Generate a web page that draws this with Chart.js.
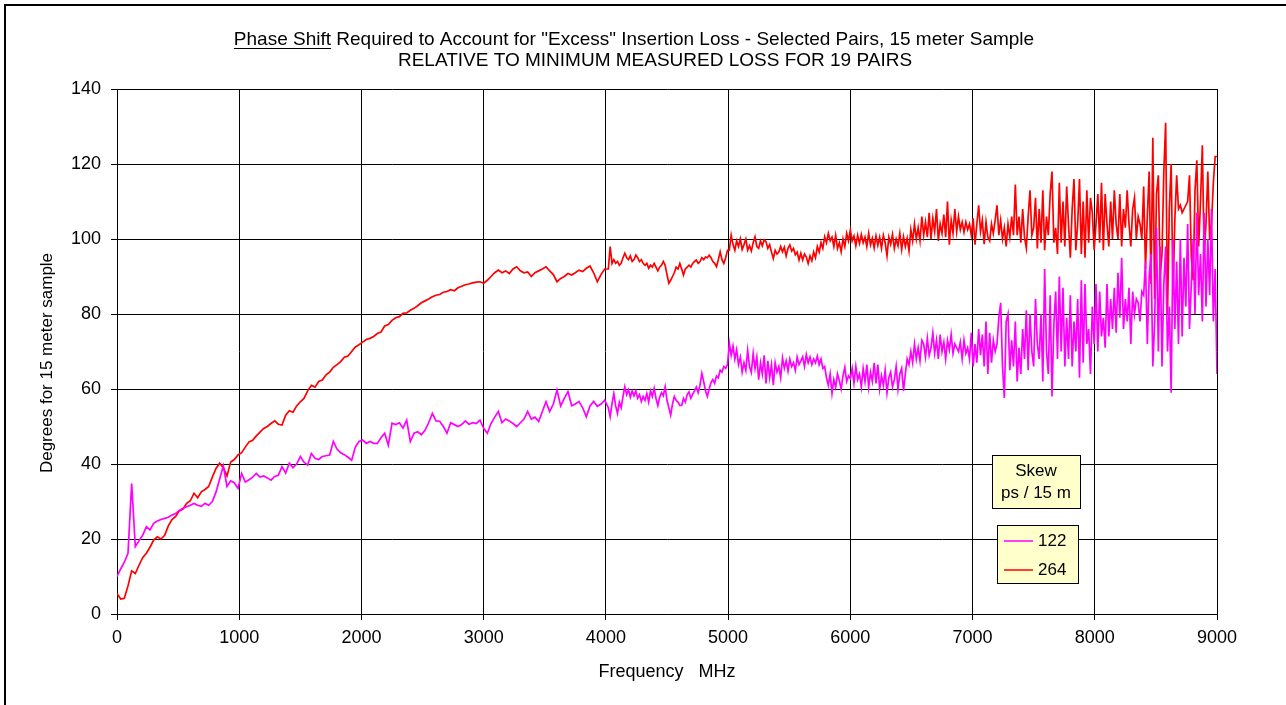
<!DOCTYPE html>
<html>
<head>
<meta charset="utf-8">
<script src="https://cdn.jsdelivr.net/npm/chart.js@4.4.0/dist/chart.umd.min.js"></script>
<style>
  html, body { margin: 0; padding: 0; background: #fff; overflow: hidden; }
  #frame { position: absolute; left: 4px; top: 4px; width: 1320px; height: 740px; border: 2px solid #000; }
  #wrap { position: absolute; left: 0; top: 0; width: 1286px; height: 705px; }
</style>
</head>
<body>
<div id="frame"></div>
<div id="wrap"><canvas id="chart" width="1286" height="705"></canvas></div>
<script>
// Readings: every 30 MHz from 0 to 3990 MHz, then every 15 MHz from 4020 to 9000 MHz
const LOW_STEP = 30;
const HIGH_START = 4020;
const HIGH_STEP = 15;
const X_TICKS = [0, 1000, 2000, 3000, 4000, 5000, 6000, 7000, 8000, 9000];
const Y_TICKS = [0, 20, 40, 60, 80, 100, 120, 140];

const TITLE_HEAD = "Phase Shift";
const TITLE_REST = " Required to Account for \"Excess\" Insertion Loss - Selected Pairs, 15 meter Sample";
const TITLE_LINE2 = "RELATIVE TO MINIMUM MEASURED LOSS FOR 19 PAIRS";
const X_TITLE = "Frequency   MHz";
const Y_TITLE = "Degrees for 15 meter sample";
const LEGEND_TITLE = ["Skew", "ps / 15 m"];
const SERIES_LABELS = ["122", "264"];

// pair with 122 ps skew (magenta), degrees, 0..3990 MHz
const pair122Low = [
  10, 12, 13.8, 16.2, 34.8, 18, 19.5, 21, 23.3, 22.4,          // 0
  24.2, 24.8, 25.2, 25.5, 25.8, 26.4, 26.8, 27.6, 28.2, 28.6,  // 300
  29, 29.5, 29, 28.7, 29.5, 29, 30, 32.5, 36, 39.5,            // 600
  34, 35.5, 35, 33.5, 37.5, 35.2, 35.8, 36.5, 37.5, 36.5,      // 900
  36.8, 36.3, 35.7, 36.7, 37, 39.3, 37.6, 40.2, 39, 40,        // 1200
  42, 40.5, 39.7, 42.8, 41.5, 41.2, 42, 42.2, 42.4, 46,        // 1500
  44, 43, 42.5, 41.8, 41, 44.5, 46, 46.4, 45.5, 46,            // 1800
  45.5, 45.5, 47, 48.2, 45, 50.9, 50.5, 51, 49.6, 51.7,        // 2100
  46, 48.2, 48.6, 47.8, 49, 51, 53.5, 51.5, 51.4, 50,          // 2400
  48.2, 51, 50.5, 50, 50.5, 51.5, 50.6, 51, 50.8, 51.7,        // 2700
  49.5, 48.2, 50.8, 52.5, 54, 51, 52, 51.5, 50.8, 50,          // 3000
  51, 52, 54, 52, 52.5, 51.3, 54, 56.6, 54, 56,                // 3300
  59.7, 55.5, 57.5, 59.3, 55.5, 56, 56.7, 55, 52.6, 55.5,      // 3600
  56.7, 55.4, 56, 57                                           // 3900
];

// pair with 122 ps skew (magenta), degrees, 4020..9000 MHz
const pair122High = [
  55, 52.6, 56, 58.8, 55.5, 53.5, 56.5, 55, 58, 60.6, 58.5, 59.8, 57.8, 59.5, 58.2, 59.5, 57.5, 58.5, 56.7, 58,  // 4020
  57, 58.8, 56.5, 59.5, 58, 60.2, 57.5, 55.6, 57.8, 59, 58.2, 60.6, 57, 55, 53, 56, 58, 57, 56.5, 55.6,         // 4320
  55.6, 57.5, 56.5, 58.5, 59.2, 57.5, 58.6, 59.5, 60.5, 59, 61, 64.2, 62, 59.5, 58, 60, 61.7, 62.5, 61.5, 63.5,  // 4620
  63, 65, 64.5, 66, 65.5, 66.5,                                                                                   // 4920
  72.2, 69, 71.5, 68, 70.5, 66.5, 68.5, 64.5, 67, 65, 70.3, 66, 64.4, 69.5, 65.5, 68.5, 62.5, 67, 64, 69,        // 5010
  61.5, 67.5, 63, 66.5, 61, 67, 64.5, 66, 63, 68.3, 65.5, 67.5, 64.8, 68, 66, 67, 65, 68.5, 66.5, 67.5,          // 5310
  68.6, 66, 69.2, 67, 68.5, 66.5, 68, 67, 68.8, 66.5, 68, 65.5, 66, 63, 61, 64, 58.8, 62.5, 60.5, 64,            // 5610
  62.2, 60, 63.5, 65.8, 62, 63.5,                                                                                 // 5910
  62.8, 65.5, 61.5, 66, 62.5, 64, 60.5, 65.5, 62, 66.5, 60.5, 64.5, 62, 67, 61.5, 66.5, 60, 63.5, 61, 65,        // 6000
  59, 63, 64.5, 60.5, 62.5, 66, 60, 64, 65.5, 59.5, 64, 68, 66.5, 70, 67, 72, 68, 71, 67.5, 73,                  // 6300
  72, 68.5, 73.5, 69, 71, 75, 69.5, 73, 68, 74.5, 70, 72.5, 68, 73, 70.5, 74.5, 69.5, 72, 71, 70,                // 6600
  72.5, 68, 73, 69.5, 71, 68, 75, 66, 72, 67, 76, 69, 74.5, 66, 78, 64, 75, 67, 73, 70,                          // 6900
  72, 79, 83, 66, 57.6, 78, 80, 65, 73, 66, 78, 62, 71, 64, 76, 68, 81, 65, 80, 70,                              // 7200
  66, 84, 72, 68, 80, 62, 92, 70, 64, 85, 58, 77, 86, 68, 90, 70, 87, 66, 79, 68,                                // 7500
  85, 66, 78, 70, 84, 63, 89, 67, 88, 72, 76, 64, 82, 72, 88, 70, 86, 74, 79, 71,                                // 7800
  88, 74, 84, 76, 87, 75, 91, 79, 95, 76, 84, 78, 87, 72, 86, 80, 84, 83, 78, 86,                                // 8100
  85, 94, 72, 90, 96, 66, 78, 103, 70, 98, 66, 88, 98, 70, 82, 59, 100, 76, 94, 72,                              // 8400
  100, 74, 95, 82, 104, 76, 88, 100, 80, 107, 85, 96, 78, 107, 82, 100, 85, 108, 78, 92,                         // 8700
  64                                                                                                              // 9000
];

// pair with 264 ps skew (red), degrees, 0..3990 MHz
const pair264Low = [
  5.5, 4, 4.2, 7.5, 11.5, 10.8, 13, 15, 16.2, 17.8,            // 0
  19.7, 20.6, 20, 21, 23.5, 25.2, 26, 27.5, 28, 29.5,          // 300
  30.2, 32.2, 31, 32.6, 33.2, 34, 36.5, 38.8, 40.2, 39,        // 600
  36.8, 40.5, 41.2, 42.4, 43, 44.5, 45.9, 46.3, 47.5, 48.5,    // 900
  49.5, 50, 50.8, 51.5, 50.6, 50.4, 53, 54.2, 53.8, 55.5,      // 1200
  56.6, 57.5, 59.5, 61, 60.5, 62, 62.4, 63.8, 64.5, 65.8,      // 1500
  66.5, 67.3, 68.5, 68.8, 70, 71.2, 71.8, 72.5, 73.2, 73.5,    // 1800
  74, 74.8, 75.2, 76.8, 77.2, 78.3, 79, 79.3, 80.2, 80.3,      // 2100
  81, 81.5, 82.2, 83, 83.5, 84, 84.6, 85, 85.2, 85.8,          // 2400
  86, 86.5, 86.2, 87, 87.4, 87.8, 88, 88.3, 88.5, 88.6,        // 2700
  88.2, 89, 90, 91, 91.7, 91, 91.5, 90.8, 92, 92.6,            // 3000
  91.5, 91, 91.2, 90, 91, 91.5, 92, 92.6, 91.5, 90.5,          // 3300
  88.6, 89.5, 90, 90.8, 90.4, 91, 91.7, 91.3, 92.2, 92.8,      // 3600
  91, 88.6, 90.5, 92                                           // 3900
];

// pair with 264 ps skew (red), degrees, 4020..9000 MHz
const pair264High = [
  92, 98, 93.5, 94.5, 93.5, 94, 93, 93.5, 95, 96.2, 95, 94.5, 95.5, 94, 94.5, 95.7, 95, 94, 94.5, 93.5,                   // 4020
  93, 93.5, 92.2, 93, 92.5, 93.5, 92.5, 91.5, 92.5, 93, 94, 93, 90.5, 88.2, 89, 90, 91, 92.5, 92, 93.5,                   // 4320
  92, 90.4, 92, 92.5, 93, 92.5, 93.5, 94, 94.4, 93.5, 94, 95, 94.5, 95.2, 95, 95.7, 95, 94, 93.5, 92.6,                   // 4620
  94.5, 96.6, 94.5, 93.5, 95, 97,                                                                                          // 4920
  97, 101, 98.5, 97, 99.5, 98, 100, 97.2, 98.5, 100, 97, 98.2, 96.8, 99, 100.6, 98, 97.5, 99.5, 98.2, 99.8,                // 5010
  99.3, 97.5, 98.5, 96.5, 94.8, 97, 96, 96.5, 98, 96.6, 97.8, 95.5, 97.5, 98.4, 96.8, 97.5, 95.8, 96.5, 94.4, 96.2,        // 5310
  94.4, 96, 95.2, 93.5, 95.5, 94.2, 96.5, 95, 98, 96.5, 99, 97.5, 100.6, 99, 101.5, 99.5, 100.5, 98, 101, 97.5,            // 5610
  99, 96.6, 100, 98, 101.5, 99.5,                                                                                          // 5910
  102.4, 99.5, 100.8, 98.2, 101, 98.8, 101.2, 99, 100.5, 98, 101.5, 98.4, 100.2, 97.6, 100.8, 98.3, 100.5, 97.5, 101, 99,  // 6000
  95.5, 100.5, 98.6, 101.2, 97.5, 100, 98.2, 101.5, 97.2, 100.6, 98, 100.2, 96.8, 102.5, 99.5, 104, 100, 103, 99.5, 106,  // 6300
  101, 104.5, 100.5, 107, 100, 105.5, 102, 108, 99.5, 104, 101.5, 106.5, 100.5, 110, 98.5, 105, 101.5, 108, 102, 106,     // 6600
  102.5, 104.5, 101.8, 104.5, 102.5, 104, 101, 105.5, 98.5, 104, 109, 102, 105, 98.6, 104.5, 100.5, 99.5, 104, 101.5, 105, // 6900
  109, 101, 105, 100, 103, 98, 104, 100.5, 106, 101, 114.5, 101, 106, 99, 108, 100.5, 97.6, 106, 113, 101,                // 7200
  103, 111, 97.5, 108, 99, 113, 97, 106, 101, 112, 118, 99, 103, 96, 115, 99, 110, 98, 114, 104,                          // 7500
  95, 108, 116, 97, 104, 116, 96, 110, 95, 113, 99, 111, 107, 97, 104, 112, 99, 115, 97, 112,                             // 7800
  104, 98, 110, 100, 113, 104, 100, 112, 98, 108, 103, 113, 104, 98, 108, 111, 100, 106, 104, 100,                        // 8100
  114, 92, 106, 118, 88, 127, 84, 112, 117, 90, 96, 118, 131, 80, 108, 120, 85, 105, 117, 108,                            // 8400
  109, 107, 108, 109, 110, 117, 95, 89, 113, 121, 98, 110, 125, 96, 104, 118, 100, 104, 115, 122,                         // 8700
  122                                                                                                                      // 9000
];

const FONT = '"Liberation Sans", Arial, sans-serif';
const toPoints = (low, high) =>
  low.map((v, i) => ({ x: i * LOW_STEP, y: v }))
    .concat(high.map((v, j) => ({ x: HIGH_START + j * HIGH_STEP, y: v })));

// title lines ("Phase Shift" underlined) and the rotated y title
const titlePlugin = {
  id: "titleBlock",
  afterDraw(chart) {
    const ctx = chart.ctx;
    ctx.save();
    ctx.fillStyle = "#000";
    ctx.font = "19px " + FONT;
    ctx.textBaseline = "middle";
    const full = TITLE_HEAD + TITLE_REST;
    const w = ctx.measureText(full).width;
    const x0 = 634 - w / 2;
    ctx.textAlign = "left";
    ctx.fillText(full, x0, 40);
    ctx.fillRect(x0, 48, ctx.measureText(TITLE_HEAD).width, 1);
    ctx.textAlign = "center";
    ctx.fillText(TITLE_LINE2, 655, 61);

    ctx.font = "17px " + FONT;
    ctx.translate(47, 363);
    ctx.rotate(-Math.PI / 2);
    ctx.fillText(Y_TITLE, 0, 0);
    ctx.restore();
  }
};

// two yellow boxes: skew caption + series key
const legendPlugin = {
  id: "skewLegend",
  afterDraw(chart) {
    const ctx = chart.ctx;
    ctx.save();
    ctx.fillStyle = "#FFFFCC";
    ctx.strokeStyle = "#000";
    ctx.lineWidth = 1;
    ctx.fillRect(992, 455, 88, 53);
    ctx.strokeRect(992.5, 455.5, 88, 53);
    ctx.fillRect(997, 525, 81, 58);
    ctx.strokeRect(997.5, 525.5, 81, 58);

    ctx.fillStyle = "#000";
    ctx.font = "17px " + FONT;
    ctx.textAlign = "center";
    ctx.textBaseline = "middle";
    ctx.fillText(LEGEND_TITLE[0], 1036, 471);
    ctx.fillText(LEGEND_TITLE[1], 1036, 493);

    chart.data.datasets.forEach((ds, i) => {
      const y = 541 + i * 29;
      ctx.strokeStyle = ds.borderColor;
      ctx.lineWidth = 1.5;
      ctx.beginPath();
      ctx.moveTo(1004, y);
      ctx.lineTo(1033, y);
      ctx.stroke();
      ctx.fillStyle = "#000";
      ctx.textAlign = "left";
      ctx.fillText(ds.label, 1038, y);
    });
    ctx.restore();
  }
};

new Chart(document.getElementById("chart"), {
  type: "line",
  data: {
    datasets: [
      { label: SERIES_LABELS[0], data: toPoints(pair122Low, pair122High), borderColor: "#FF00FF", borderWidth: 1.7 },
      { label: SERIES_LABELS[1], data: toPoints(pair264Low, pair264High), borderColor: "#FF0000", borderWidth: 1.7 }
    ]
  },
  options: {
    responsive: false,
    animation: false,
    events: [],
    layout: { padding: { top: 89, right: 69, left: 0, bottom: 0 } },
    elements: { point: { radius: 0 }, line: { tension: 0 } },
    plugins: { legend: { display: false }, tooltip: { enabled: false }, title: { display: false } },
    scales: {
      x: {
        type: "linear",
        min: X_TICKS[0],
        max: X_TICKS[X_TICKS.length - 1],
        afterFit: s => { s.height = 91; },
        afterBuildTicks: s => { s.ticks = X_TICKS.map(v => ({ value: v })); },
        grid: { color: "#000", tickColor: "#000", tickLength: 6 },
        border: { color: "#000" },
        ticks: { color: "#000", font: { family: FONT, size: 18 }, padding: 7, maxRotation: 0, callback: v => String(v) },
        title: { display: true, text: X_TITLE, color: "#000", font: { family: FONT, size: 18 }, padding: { bottom: 22 } }
      },
      y: {
        min: Y_TICKS[0],
        max: Y_TICKS[Y_TICKS.length - 1],
        afterFit: s => { s.width = 117; },
        afterBuildTicks: s => { s.ticks = Y_TICKS.map(v => ({ value: v })); },
        grid: { color: "#000", tickColor: "#000", tickLength: 6 },
        border: { color: "#000" },
        ticks: { color: "#000", font: { family: FONT, size: 18 }, padding: 10, callback: v => String(v) },
        title: { display: false }
      }
    }
  },
  plugins: [titlePlugin, legendPlugin]
});
</script>
</body>
</html>
